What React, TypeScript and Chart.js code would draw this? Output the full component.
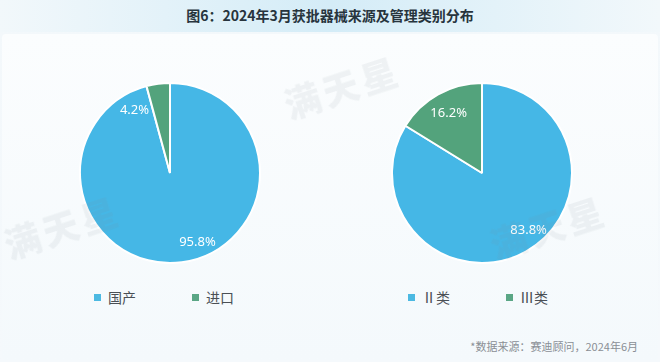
import React, { useEffect, useRef } from "react";
import { Chart, registerables } from "chart.js";
Chart.register(...registerables);

const titleText = "图6：2024年3月获批器械来源及管理类别分布";
const sourceText = "*数据来源：赛迪顾问，2024年6月";

const originLabels = ["国产", "进口"];
const originValues = [95.8, 4.2];
const classLabels = ["Ⅱ类", "Ⅲ类"];
const classValues = [83.8, 16.2];

const sliceColors = ["#45b7e6", "#53a37c"];
const legendColors = ["#4cb9e2", "#5aa685"];

const pctLabelPlugin = {
  id: "pctLabels",
  afterDatasetsDraw(chart: any, _args: any, opts: any) {
    const ctx = chart.ctx;
    const meta = chart.getDatasetMeta(0);
    const data = chart.data.datasets[0].data as number[];
    const shifts: number[] = opts.angleShift || [];
    const fracs: number[] = opts.radiusFrac || [];
    ctx.save();
    ctx.fillStyle = "#ffffff";
    ctx.font = "13px 'Noto Sans', 'DejaVu Sans', sans-serif";
    ctx.textAlign = "center";
    ctx.textBaseline = "middle";
    meta.data.forEach((arc: any, i: number) => {
      const p = arc.getProps(["x", "y", "startAngle", "endAngle", "outerRadius"], true);
      const mid = (p.startAngle + p.endAngle) / 2 + ((shifts[i] || 0) * Math.PI) / 180;
      const r = p.outerRadius * (fracs[i] || 0.8);
      ctx.fillText(data[i].toFixed(1) + "%", p.x + Math.cos(mid) * r, p.y + Math.sin(mid) * r);
    });
    ctx.restore();
  },
};

function PieChart(props: { labels: string[]; values: number[]; angleShift: number[]; radiusFrac: number[] }) {
  const ref = useRef<HTMLCanvasElement | null>(null);
  useEffect(() => {
    if (!ref.current) return;
    const chart = new Chart(ref.current, {
      type: "pie",
      data: {
        labels: props.labels,
        datasets: [
          {
            data: props.values,
            backgroundColor: sliceColors,
            borderColor: "#ffffff",
            borderWidth: 2,
          },
        ],
      },
      options: {
        responsive: false,
        animation: false,
        layout: { padding: 0 },
        plugins: {
          legend: { display: false },
          tooltip: { enabled: false },
          pctLabels: { angleShift: props.angleShift, radiusFrac: props.radiusFrac },
        } as any,
      },
      plugins: [pctLabelPlugin],
    });
    return () => chart.destroy();
  }, []);
  return <canvas ref={ref} width={182} height={182} style={{ width: 182, height: 182, display: "block" }} />;
}

function Legend(props: { labels: string[]; left: number; width: number }) {
  return (
    <div
      style={{
        position: "absolute",
        left: props.left,
        width: props.width,
        top: 288,
        display: "flex",
        justifyContent: "center",
        gap: 56,
        fontFamily: "'Noto Sans CJK SC', 'Noto Sans', sans-serif",
        fontSize: 14,
        color: "#4a4f55",
        lineHeight: "18px",
      }}
    >
      {props.labels.map((l, i) => (
        <div key={l} style={{ display: "flex", alignItems: "center" }}>
          <span style={{ width: 7, height: 7, background: legendColors[i], display: "inline-block", marginRight: 7 }} />
          <span>{l}</span>
        </div>
      ))}
    </div>
  );
}

function Watermark(props: { left: number; top: number }) {
  return (
    <div
      style={{
        position: "absolute",
        left: props.left,
        top: props.top,
        transform: "rotate(-18deg)",
        fontFamily: "'Noto Sans CJK SC', sans-serif",
        fontWeight: 900,
        fontSize: 36,
        letterSpacing: 4,
        color: "rgba(120,130,140,0.09)",
        pointerEvents: "none",
        whiteSpace: "nowrap",
      }}
    >
      满天星
    </div>
  );
}

export default function App() {
  return (
    <div
      style={{
        position: "fixed",
        left: 0,
        top: 0,
        width: 660,
        height: 362,
        overflow: "hidden",
        background: "linear-gradient(180deg, #f3f8fb 0%, #f5f9fc 100%)",
      }}
    >
      <div
        style={{
          position: "absolute",
          left: 0,
          top: 0,
          width: 660,
          height: 32,
          background: "linear-gradient(90deg, #f2f8fb 0%, #d4ecf7 50%, #f2f8fb 100%)",
          textAlign: "center",
          fontFamily: "'Noto Sans CJK SC', sans-serif",
          fontWeight: 700,
          fontSize: 14,
          lineHeight: "31px",
          color: "#27343d",
        }}
      >
        {titleText}
      </div>
      <div
        style={{
          position: "absolute",
          left: 2,
          top: 34,
          width: 656,
          height: 326,
          background: "linear-gradient(180deg, #fbfdfe 0%, #f4f9fc 100%)",
          borderRadius: 4,
        }}
      />
      <div style={{ position: "absolute", left: 79, top: 82 }}>
        <PieChart labels={originLabels} values={originValues} angleShift={[-14, -22]} radiusFrac={[0.83, 0.8]} />
      </div>
      <div style={{ position: "absolute", left: 391, top: 82 }}>
        <PieChart labels={classLabels} values={classValues} angleShift={[-10, 0]} radiusFrac={[0.82, 0.76]} />
      </div>
      <Legend labels={originLabels} left={64} width={200} />
      <Legend labels={classLabels} left={378} width={200} />
      <div
        style={{
          position: "absolute",
          right: 22,
          top: 338,
          fontFamily: "'Noto Sans CJK SC', sans-serif",
          fontSize: 11,
          color: "#8a8f95",
          lineHeight: "16px",
        }}
      >
        {sourceText}
      </div>
      <Watermark left={282} top={60} />
      <Watermark left={2} top={200} />
      <Watermark left={488} top={200} />
    </div>
  );
}
